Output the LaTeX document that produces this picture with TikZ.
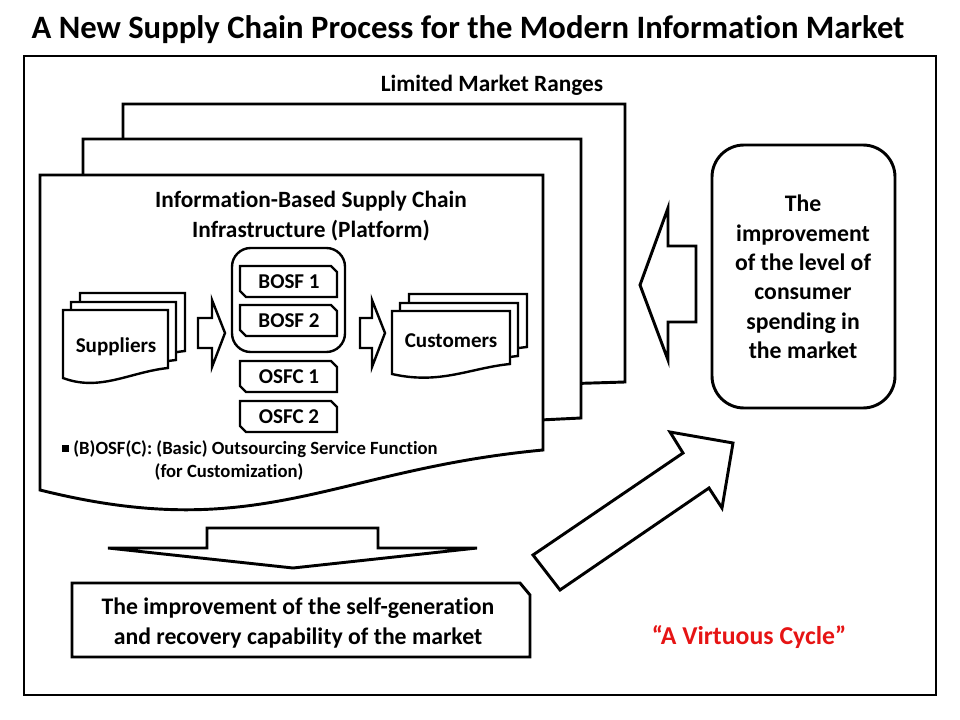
\documentclass[tikz,border=0pt]{standalone}
\usepackage{fontspec}
\setmainfont{Carlito}[Ligatures=NoCommon]
\begin{document}
\begin{tikzpicture}[x=0.75pt,y=-0.75pt,
  ln/.style={line width=2.2pt,line join=miter},
  thin/.style={line width=1.8pt,line join=miter},
  txt/.style={font=\bfseries\fontsize{15.8}{19}\selectfont,align=center},
  snip/.style={thin,fill=white}]
\useasboundingbox (0,0) rectangle (960,720);
\node[font=\bfseries\fontsize{24.5}{28}\selectfont] (title) at (468,30) {A New Supply Chain Process for the Modern Information Market};
\draw[ln] (24,56) rectangle (936,695);
\node[font=\bfseries\fontsize{17.5}{20}\selectfont] (lmr) at (492,85) {Limited Market Ranges};
% pages
\draw[ln,fill=white] (123,104) -- (625,104) -- (625,382) -- (560,384) -- (123,384) -- cycle;
\draw[ln,fill=white] (83,139) -- (581,139) -- (581,418) -- (540,420) -- (83,420) -- cycle;
\draw[ln,fill=white] (40,175) -- (543,175) -- (543,450) .. controls (330,470) and (260,545) .. (40,490) -- cycle;
\node[font=\bfseries\fontsize{17.5}{22}\selectfont,align=center] (ibsc) at (311,216) {Information-Based Supply Chain\\Infrastructure (Platform)};
% suppliers
\foreach \d in {17,8,0}{
\draw[thin,fill=white] (63+\d,310-\d) -- (168+\d,310-\d) -- (168+\d,368-\d) .. controls (130+\d,372-\d) and (100+\d,392-\d) .. (63+\d,378-\d) -- cycle;}
\node[txt] (sup) at (116,347) {Suppliers};
\foreach \d in {17,8,0}{
\draw[thin,fill=white] (392+\d,311-\d) -- (510+\d,311-\d) -- (510+\d,364-\d) .. controls (470+\d,368-\d) and (440+\d,385-\d) .. (392+\d,374-\d) -- cycle;}
\node[txt] (cus) at (451,341) {Customers};
% small arrows
\draw[thin,fill=white] (198,318) -- (212,318) -- (212,300) -- (225,333) -- (212,367) -- (212,348) -- (198,348) -- cycle;
\draw[thin,fill=white] (360,318) -- (372,318) -- (372,300) -- (385,333) -- (372,367) -- (372,348) -- (360,348) -- cycle;
\draw[thin,rounded corners=14pt] (232,248) rectangle (345,352);
\foreach \n/\y/\t in {b1/266/BOSF 1,b2/305/BOSF 2,o1/361/OSFC 1,o2/401/OSFC 2}{
\draw[snip] (240,\y) -- (331,\y) -- (337,\y+6) -- (337,\y+31) -- (246,\y+31) -- (240,\y+25) -- cycle;
\node[txt] (\n) at (289,\y+16) {\t};}
\node[font=\bfseries\fontsize{14}{17}\selectfont,anchor=west] (note1) at (57,449) {\rule[0.25ex]{0.4em}{0.4em} (B)OSF(C): (Basic) Outsourcing Service Function};
\node[font=\bfseries\fontsize{14}{17}\selectfont,anchor=west] (note2) at (150,472) {(for Customization)};
% left arrow
\draw[ln,fill=white] (640,285) -- (668,208) -- (668,246) -- (696,246) -- (696,322) -- (668,322) -- (668,360) -- cycle;
\draw[ln,rounded corners=24pt] (712,145) rectangle (895,408);
\node[font=\bfseries\fontsize{17.8}{22}\selectfont,align=center] (impr) at (803,277) {The\\improvement\\of the level of\\consumer\\spending in\\the market};
% down arrow
\draw[ln,fill=white] (207,528) -- (378,528) -- (378,548) -- (477,548) -- (293,568) -- (108,548) -- (207,548) -- cycle;
\draw[ln,fill=white] (72,583) -- (520,583) -- (530,595) -- (530,657) -- (72,657) -- cycle;
\node[font=\bfseries\fontsize{17.8}{22}\selectfont,align=center] (self) at (298,623) {The improvement of the self-generation\\and recovery capability of the market};
% diagonal arrow
\draw[ln,fill=white] (533,555) -- (683,453) -- (670,432) -- (733,443) -- (722,508) -- (709,488) -- (560,590) -- cycle;
\node[font=\bfseries\fontsize{19.3}{22}\selectfont,text={rgb,255:red,230;green,20;blue,20}] (vc) at (749,637) {“A Virtuous Cycle”};
\end{tikzpicture}
\end{document}
